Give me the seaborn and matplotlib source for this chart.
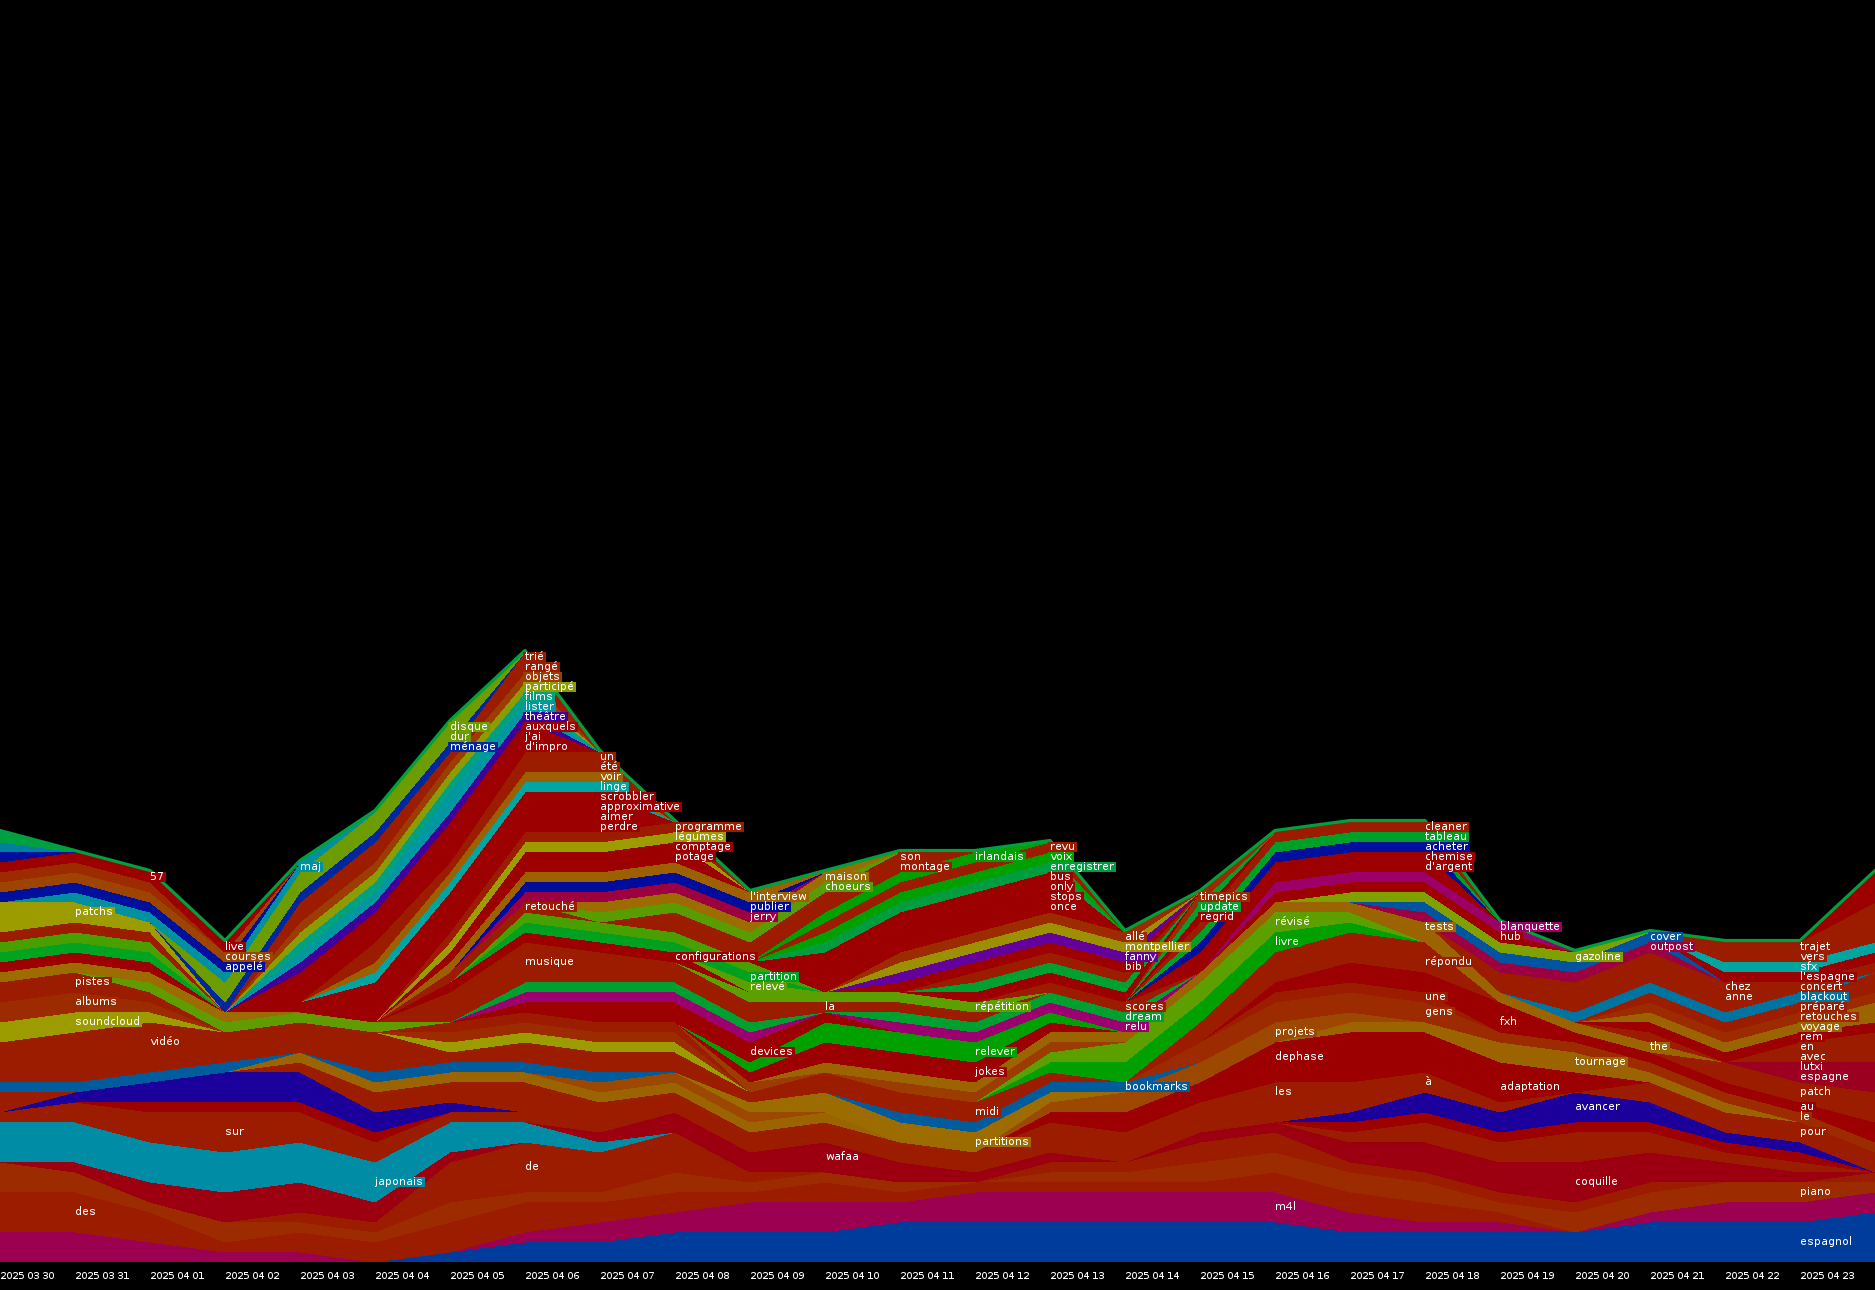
#!/usr/bin/env python3
"""Word counts per day drawn as a stacked area chart on black."""

import matplotlib
matplotlib.use('Agg')
import matplotlib.pyplot as plt
from matplotlib.patches import Rectangle
import pandas as pd
import seaborn as sns

dates = ['2025 03 30', '2025 03 31', '2025 04 01', '2025 04 02', '2025 04 03', '2025 04 04',
         '2025 04 05', '2025 04 06', '2025 04 07', '2025 04 08', '2025 04 09', '2025 04 10',
         '2025 04 11', '2025 04 12', '2025 04 13', '2025 04 14', '2025 04 15', '2025 04 16',
         '2025 04 17', '2025 04 18', '2025 04 19', '2025 04 20', '2025 04 21', '2025 04 22',
         '2025 04 23']

# one list per layer, 26 days (1 count = 10 px)
espagnol = [0,0,0,0,0, 0,1,2,2,3, 3,3,4,4,4, 4,4,4,3,3, 3,3,4,4,4, 5]
m4l = [3,3,2,1,1, 0,0,1,2,2, 3,3,2,3,3, 3,3,3,2,1, 1,0,1,2,2, 2]
des = [4,4,3,1,2, 2,3,3,2,2, 1,2,1,1,1, 1,1,2,2,2, 1,0,0,0,0, 0]
piano = [3,2,1,2,1, 1,2,1,1,2, 1,1,1,0,1, 1,2,2,2,2, 1,2,2,2,2, 1]
de = [0,0,0,0,1, 1,4,5,4,4, 1,0,0,0,1, 1,2,2,1,1, 1,1,1,0,0, 1]
dark1 = [0,1,2,3,3, 2,1,0,0,0, 0,0,0,0,0, 0,0,0,0,0, 0,0,0,0,0, 0]
japonais = [4,4,4,4,4, 4,3,2,1,0, 0,0,0,0,0, 0,0,0,0,0, 0,0,0,0,0, 0]
wafaa = [0,0,0,0,0, 0,0,0,1,2, 2,3,2,1,1, 0,1,1,2,3, 3,4,3,2,1, 0]
sur = [1,2,3,4,3, 2,1,1,0,0, 0,0,0,0,0, 0,0,0,1,2, 2,3,2,1,1, 0]
dark2 = [0,0,1,1,1, 1,0,0,0,0, 0,0,0,0,0, 0,0,0,1,1, 1,1,1,1,1, 0]
avancer = [0,1,2,3,3, 2,1,0,0,0, 0,0,0,0,0, 0,0,0,1,2, 2,3,2,1,1, 0]
les = [2,0,0,0,1, 2,2,3,3,2, 2,2,2,2,3, 3,3,4,3,2, 1,0,2,2,2, 2]
dephase = [0,0,0,0,0, 0,0,0,0,0, 0,0,0,0,1, 2,2,4,5,4, 4,2,0,0,0, 0]
tournage = [0,0,0,0,1, 1,1,1,1,1, 1,1,0,0,0, 0,0,0,1,1, 2,2,1,1,0, 0]
projets = [0,0,0,0,0, 0,0,0,1,1, 1,0,0,0,1, 2,2,2,1,0, 0,0,0,0,0, 0]
partitions = [0,0,0,0,0, 0,0,0,0,0, 1,2,2,2,1, 0,0,0,0,0, 0,0,0,0,0, 0]
bookmarks = [1,1,1,1,0, 1,1,1,1,0, 0,0,1,1,1, 1,0,0,0,0, 0,0,0,0,0, 0]
video = [4,5,5,3,3, 4,1,2,2,2, 1,2,2,2,1, 0,0,0,0,0, 0,0,0,0,0, 0]
soundcloud = [2,2,1,0,0, 0,1,1,1,1, 0,0,0,0,0, 0,0,0,0,0, 0,0,0,0,0, 0]
albums = [2,2,1,0,0, 0,1,1,1,1, 0,0,0,0,0, 0,0,0,0,0, 0,0,0,0,0, 0]
pistes = [2,2,1,0,0, 0,1,1,1,1, 0,0,0,0,0, 0,0,0,0,0, 0,0,0,0,0, 0]
lime0 = [0,0,1,1,1, 1,0,0,0,0, 0,0,0,0,0, 0,0,0,0,0, 0,0,0,0,0, 0]
brown0 = [1,1,1,1,0, 0,0,0,0,0, 0,0,0,0,0, 0,0,0,0,0, 0,0,0,0,0, 0]
dk0 = [1,1,1,0,0, 0,0,0,0,0, 0,0,0,0,0, 0,0,0,0,0, 0,0,0,0,0, 0]
g1 = [1,1,1,0,0, 0,0,0,0,0, 0,0,0,0,0, 0,0,0,0,0, 0,0,0,0,0, 0]
g2 = [1,1,1,0,0, 0,0,0,0,0, 0,0,0,0,0, 0,0,0,0,0, 0,0,0,0,0, 0]
dk1 = [1,1,1,0,0, 0,0,0,0,0, 0,0,0,0,0, 0,0,0,0,0, 0,0,0,0,0, 0]
patchs = [3,2,1,0,0, 0,0,0,0,0, 0,0,0,0,0, 0,0,0,0,0, 0,0,0,0,0, 0]
gens = [0,0,0,0,0, 0,0,0,0,0, 0,0,0,0,0, 0,2,2,2,2, 1,1,1,1,1, 1]
une = [0,0,0,0,0, 0,0,0,0,0, 0,0,0,0,0, 0,0,1,1,1, 0,0,0,0,0, 0]
dk3 = [0,0,0,0,0, 0,0,0,0,0, 0,0,0,0,0, 0,0,1,2,2, 3,1,1,1,1, 2]
repondu = [0,0,0,0,0, 0,0,0,0,0, 0,0,0,0,0, 0,2,3,3,3, 0,0,0,0,0, 0]
patch = [0,0,0,0,0, 0,0,0,0,0, 0,0,0,0,0, 0,0,0,0,0, 0,0,0,2,2, 3]
espagne = [0,0,0,0,0, 0,0,0,0,0, 0,0,0,0,0, 0,0,0,0,0, 0,0,0,0,1, 2]
lutxi = [0,0,0,0,0, 0,0,0,0,0, 0,0,0,0,0, 0,0,0,0,0, 0,0,0,0,1, 1]
avec = [0,0,0,0,0, 0,0,0,0,0, 0,0,0,0,0, 0,0,0,0,0, 0,0,0,0,1, 2]
livre = [0,0,0,0,0, 0,0,0,0,0, 0,0,0,0,1, 2,2,2,1,0, 0,0,0,0,0, 0]
revise = [0,0,0,0,0, 0,0,0,0,0, 0,0,0,0,1, 2,2,2,1,0, 0,0,0,0,0, 0]
t2 = [0,0,0,0,0, 0,0,0,0,0, 1,0,1,1,1, 0,0,0,0,0, 0,0,0,0,0, 0]
the = [0,0,0,0,0, 0,0,0,0,0, 0,0,0,0,0, 0,0,0,0,1, 1,1,1,0,0, 0]
tests = [0,0,0,0,0, 0,0,0,0,0, 0,1,1,1,1, 1,1,1,1,1, 0,0,0,0,0, 0]
en = [0,0,0,0,0, 0,0,0,0,0, 0,0,0,0,0, 0,0,0,0,0, 0,0,1,0,1, 1]
rem = [0,0,0,0,0, 0,0,0,0,0, 0,0,0,0,0, 0,0,0,0,0, 0,0,1,1,1, 1]
voyage = [0,0,0,0,0, 0,0,0,0,0, 0,0,0,0,0, 0,0,0,0,0, 0,0,1,1,1, 2]
retouches = [0,0,0,0,0, 0,0,0,0,0, 0,0,0,0,0, 0,0,0,0,0, 0,0,1,1,1, 1]
prepare = [0,0,0,0,0, 0,0,0,0,0, 0,0,0,0,0, 0,0,0,0,0, 0,0,1,1,1, 2]
blackout = [0,0,0,0,0, 0,0,0,0,0, 0,0,0,0,0, 0,0,0,0,0, 0,1,1,1,1, 0]
concert = [0,0,0,0,0, 0,0,0,0,0, 0,0,0,0,0, 0,0,0,0,0, 0,0,0,1,1, 1]
chez = [0,0,0,0,0, 0,0,0,0,0, 0,0,0,0,0, 0,0,0,0,0, 1,2,2,1,0, 0]
anne = [0,0,0,0,0, 0,0,0,0,0, 0,0,0,0,0, 0,0,0,0,0, 1,1,1,1,0, 0]
outpost = [0,0,0,0,0, 0,0,0,0,0, 0,0,0,0,0, 0,0,0,0,1, 1,1,1,0,0, 0]
cover = [0,0,0,0,0, 0,0,0,0,0, 0,0,0,0,0, 0,0,0,0,1, 1,1,1,0,0, 0]
gazoline = [0,0,0,0,0, 0,0,0,0,0, 0,0,0,0,0, 0,0,0,1,1, 1,1,0,0,0, 0]
jokes = [0,0,0,0,0, 0,0,0,0,0, 1,2,2,2,1, 0,0,0,0,0, 0,0,0,0,0, 0]
relever = [0,0,0,0,0, 0,0,0,0,0, 1,2,2,2,1, 0,0,0,0,0, 0,0,0,0,0, 0]
devices = [0,0,0,0,0, 0,0,1,2,2, 2,1,0,0,0, 0,0,0,0,0, 0,0,0,0,0, 0]
relu = [0,0,0,0,0, 0,0,1,1,1, 1,0,1,1,1, 1,0,0,0,0, 0,0,0,0,0, 0]
dream = [0,0,0,0,0, 0,0,1,1,1, 1,0,1,1,1, 1,0,0,0,0, 0,0,0,0,0, 0]
la = [0,0,0,0,0, 0,3,4,3,2, 2,1,1,1,0, 0,0,0,0,0, 0,0,0,0,0, 0]
repetition = [0,0,0,0,0, 0,0,0,0,0, 1,1,1,1,0, 0,0,0,0,0, 0,0,0,0,0, 0]
configurations = [0,0,0,0,0, 0,1,1,1,1, 0,0,0,0,0, 0,0,0,0,0, 0,0,0,0,0, 0]
releve = [0,0,0,0,0, 0,0,0,0,0, 1,0,0,0,0, 0,0,0,0,0, 0,0,0,0,0, 0]
green2 = [0,0,0,0,0, 0,0,1,1,1, 1,0,0,0,0, 0,0,0,0,0, 0,0,0,0,0, 0]
partition = [0,0,0,0,0, 0,0,1,1,1, 1,0,0,0,0, 0,0,0,0,0, 0,0,0,0,0, 0]
scores = [0,0,0,0,0, 0,0,0,0,0, 0,0,0,0,1, 1,0,0,0,0, 0,0,0,0,0, 0]
hub = [0,0,0,0,0, 0,0,0,0,0, 0,0,0,0,0, 0,0,1,1,1, 1,0,0,0,0, 0]
blanquette = [0,0,0,0,0, 0,0,0,0,0, 0,0,0,0,0, 0,0,1,1,1, 1,0,0,0,0, 0]
chemise = [0,0,0,0,0, 0,0,0,0,0, 0,0,0,0,0, 0,2,2,2,2, 0,0,0,0,0, 0]
acheter = [0,0,0,0,0, 0,0,0,0,0, 0,0,0,0,0, 0,1,1,1,1, 0,0,0,0,0, 0]
tableau = [0,0,0,0,0, 0,0,0,0,0, 0,0,0,0,0, 0,1,1,1,1, 0,0,0,0,0, 0]
cleaner = [0,0,0,0,0, 0,0,0,0,0, 0,0,0,0,0, 0,1,1,1,1, 0,0,0,0,0, 0]
regrid = [0,0,0,0,0, 0,0,0,0,0, 0,0,0,0,0, 0,1,0,0,0, 0,0,0,0,0, 0]
update = [0,0,0,0,0, 0,0,0,0,0, 0,0,0,0,0, 0,1,0,0,0, 0,0,0,0,0, 0]
timepics = [0,0,0,0,0, 0,0,0,0,0, 0,0,0,0,0, 0,1,0,0,0, 0,0,0,0,0, 0]
dk4 = [0,0,0,0,0, 0,0,0,0,0, 0,0,0,1,1, 1,0,0,0,0, 0,0,0,0,0, 0]
gn4 = [0,0,0,0,0, 0,0,0,0,0, 0,0,0,1,1, 1,0,0,0,0, 0,0,0,0,0, 0]
yy4 = [0,0,0,0,0, 0,0,0,0,0, 0,0,0,1,1, 1,0,0,0,0, 0,0,0,0,0, 0]
bib = [0,0,0,0,0, 0,0,0,0,0, 0,0,1,1,1, 1,0,0,0,0, 0,0,0,0,0, 0]
fanny = [0,0,0,0,0, 0,0,0,0,0, 0,0,1,1,1, 1,0,0,0,0, 0,0,0,0,0, 0]
montpellier = [0,0,0,0,0, 0,0,0,0,0, 0,0,1,1,1, 1,0,0,0,0, 0,0,0,0,0, 0]
alle = [0,0,0,0,0, 0,0,0,0,0, 0,0,1,1,1, 1,0,0,0,0, 0,0,0,0,0, 0]
bus = [0,0,0,0,0, 0,0,0,0,0, 0,4,4,4,4, 0,0,0,0,0, 0,0,0,0,0, 0]
enregistrer = [0,0,0,0,0, 0,0,0,0,0, 0,1,1,1,1, 0,0,0,0,0, 0,0,0,0,0, 0]
voix = [0,0,0,0,0, 0,0,0,0,0, 0,1,1,1,1, 0,0,0,0,0, 0,0,0,0,0, 0]
revu = [0,0,0,0,0, 0,0,0,0,0, 0,1,1,1,1, 0,0,0,0,0, 0,0,0,0,0, 0]
irlandais = [0,0,0,0,0, 0,0,0,0,0, 0,1,1,1,0, 0,0,0,0,0, 0,0,0,0,0, 0]
montage = [0,0,0,0,0, 0,0,0,0,0, 0,1,1,0,0, 0,0,0,0,0, 0,0,0,0,0, 0]
son = [0,0,0,0,0, 0,0,0,0,0, 0,1,1,0,0, 0,0,0,0,0, 0,0,0,0,0, 0]
retouche = [0,0,0,0,0, 0,1,1,0,2, 2,0,0,0,0, 0,0,0,0,0, 0,0,0,0,0, 0]
choeurs = [0,0,0,0,0, 0,0,0,1,1, 1,1,0,0,0, 0,0,0,0,0, 0,0,0,0,0, 0]
maison = [0,0,0,0,0, 0,0,0,1,1, 1,1,0,0,0, 0,0,0,0,0, 0,0,0,0,0, 0]
jerry = [0,0,0,0,0, 0,0,1,1,1, 1,0,0,0,0, 0,0,0,0,0, 0,0,0,0,0, 0]
publier = [0,0,0,0,0, 0,0,1,1,1, 1,0,0,0,0, 0,0,0,0,0, 0,0,0,0,0, 0]
interview = [0,0,0,0,0, 0,1,1,1,1, 1,0,0,0,0, 0,0,0,0,0, 0,0,0,0,0, 0]
potage = [0,0,0,0,0, 0,1,2,2,2, 0,0,0,0,0, 0,0,0,0,0, 0,0,0,0,0, 0]
legumes = [0,0,0,0,0, 0,1,1,1,1, 0,0,0,0,0, 0,0,0,0,0, 0,0,0,0,0, 0]
programme = [0,0,0,0,0, 0,1,1,1,1, 0,0,0,0,0, 0,0,0,0,0, 0,0,0,0,0, 0]
perdre = [0,0,0,0,1, 4,4,4,4,0, 0,0,0,0,0, 0,0,0,0,0, 0,0,0,0,0, 0]
linge = [0,0,0,0,0, 1,1,1,1,0, 0,0,0,0,0, 0,0,0,0,0, 0,0,0,0,0, 0]
voir = [0,0,0,0,0, 1,1,1,1,0, 0,0,0,0,0, 0,0,0,0,0, 0,0,0,0,0, 0]
ete = [0,0,0,0,0, 1,1,1,1,0, 0,0,0,0,0, 0,0,0,0,0, 0,0,0,0,0, 0]
un = [0,0,0,0,0, 1,0,1,1,0, 0,0,0,0,0, 0,0,0,0,0, 0,0,0,0,0, 0]
dimpro = [0,0,0,0,1, 1,1,1,0,0, 0,0,0,0,0, 0,0,0,0,0, 0,0,0,0,0, 0]
jai = [0,0,0,0,1, 1,1,1,0,0, 0,0,0,0,0, 0,0,0,0,0, 0,0,0,0,0, 0]
auxquels = [0,0,0,0,1, 1,2,1,0,0, 0,0,0,0,0, 0,0,0,0,0, 0,0,0,0,0, 0]
theatre = [0,0,0,0,1, 1,1,1,0,0, 0,0,0,0,0, 0,0,0,0,0, 0,0,0,0,0, 0]
lister = [0,0,0,0,1, 1,2,1,0,0, 0,0,0,0,0, 0,0,0,0,0, 0,0,0,0,0, 0]
films = [0,0,0,0,1, 1,1,1,0,0, 0,0,0,0,0, 0,0,0,0,0, 0,0,0,0,0, 0]
participe = [0,0,0,0,1, 1,1,1,0,0, 0,0,0,0,0, 0,0,0,0,0, 0,0,0,0,0, 0]
objets = [0,0,0,0,1, 1,1,1,0,0, 0,0,0,0,0, 0,0,0,0,0, 0,0,0,0,0, 0]
range_ = [0,0,0,0,2, 2,1,1,0,0, 0,0,0,0,0, 0,0,0,0,0, 0,0,0,0,0, 0]
trie = [0,0,0,0,0, 0,0,1,0,0, 0,0,0,0,0, 0,0,0,0,0, 0,0,0,0,0, 0]
menage = [0,0,0,1,1, 1,1,0,0,0, 0,0,0,0,0, 0,0,0,0,0, 0,0,0,0,0, 0]
dur = [0,0,0,1,1, 1,1,0,0,0, 0,0,0,0,0, 0,0,0,0,0, 0,0,0,0,0, 0]
disque = [0,0,0,1,1, 1,1,0,0,0, 0,0,0,0,0, 0,0,0,0,0, 0,0,0,0,0, 0]
maj = [0,1,1,1,1, 0,0,0,0,0, 0,0,0,0,0, 0,0,0,0,0, 0,0,0,0,0, 0]
appele = [1,1,1,1,0, 0,0,0,0,0, 0,0,0,0,0, 0,0,0,0,0, 0,0,0,0,0, 0]
courses = [1,1,1,1,0, 0,0,0,0,0, 0,0,0,0,0, 0,0,0,0,0, 0,0,0,0,0, 0]
orange0 = [1,1,1,0,0, 0,0,0,0,0, 0,0,0,0,0, 0,0,0,0,0, 0,0,0,0,0, 0]
live = [1,1,1,1,0, 0,0,0,0,0, 0,0,0,0,0, 0,0,0,0,0, 0,0,0,0,0, 0]
blue0 = [1,0,0,0,0, 0,0,0,0,0, 0,0,0,0,0, 0,0,0,0,0, 0,0,0,0,0, 0]
cyan0 = [1,0,0,0,0, 0,0,0,0,0, 0,0,0,0,0, 0,0,0,0,0, 0,0,0,0,0, 0]
green0 = [1,0,0,0,0, 0,0,0,0,0, 0,0,0,0,0, 0,0,0,0,0, 0,0,0,0,0, 0]
lespagne = [0,0,0,0,0, 0,0,0,0,0, 0,0,0,0,0, 0,0,0,0,0, 0,0,0,1,1, 1]
sfx = [0,0,0,0,0, 0,0,0,0,0, 0,0,0,0,0, 0,0,0,0,0, 0,0,0,1,1, 1]
vers = [0,0,0,0,0, 0,0,0,0,0, 0,0,0,0,0, 0,0,0,0,0, 0,0,0,1,1, 2]
trajet = [0,0,0,0,0, 0,0,0,0,0, 0,0,0,0,0, 0,0,0,0,0, 0,0,0,1,1, 2]
last = [0,0,0,0,0, 0,0,0,0,0, 0,0,0,0,0, 0,0,0,0,0, 0,0,0,0,0, 3]

RED = '#9c0000'
R1 = '#9c1c00'
R2 = '#9c2c00'
R3 = '#9c3c00'
BR = '#9c6400'

# name, values, colour, bottom to top
layers = [
    ('espagnol', espagnol, '#003c9c'), ('m4l', m4l, '#9c0050'), ('des', des, R1),
    ('piano', piano, R2), ('de', de, R1), ('dark1', dark1, '#9c0010'),
    ('japonais', japonais, '#008ca4'), ('wafaa', wafaa, '#9c0010'), ('sur', sur, R1),
    ('dark2', dark2, RED), ('avancer', avancer, '#1c009c'), ('les', les, R1),
    ('dephase', dephase, RED), ('tournage', tournage, BR), ('projets', projets, '#9c4800'),
    ('partitions', partitions, '#9c6c00'), ('bookmarks', bookmarks, '#005c9c'),
    ('video', video, R1), ('soundcloud', soundcloud, '#9c9c00'), ('albums', albums, R2),
    ('pistes', pistes, R1), ('lime0', lime0, '#609c00'), ('brown0', brown0, '#9c6c00'),
    ('dk0', dk0, RED), ('g1', g1, '#00a420'), ('g2', g2, '#48a000'), ('dk1', dk1, R1),
    ('patchs', patchs, '#9c9c00'), ('gens', gens, R2), ('une', une, R1), ('dk3', dk3, RED),
    ('repondu', repondu, R1), ('patch', patch, R1), ('espagne', espagne, '#9c0020'),
    ('lutxi', lutxi, '#9c0020'), ('avec', avec, R1), ('livre', livre, '#00a000'),
    ('revise', revise, '#5ca000'), ('t2', t2, R3), ('the', the, BR), ('tests', tests, '#9c6400'),
    ('en', en, R1), ('rem', rem, RED), ('voyage', voyage, BR), ('retouches', retouches, R2),
    ('prepare', prepare, R1), ('blackout', blackout, '#0074a0'), ('concert', concert, R1),
    ('anne', anne, R1), ('chez', chez, R1), ('outpost', outpost, '#9c0040'),
    ('cover', cover, '#0054a0'), ('gazoline', gazoline, '#80a000'), ('jokes', jokes, RED),
    ('relever', relever, '#00a000'), ('devices', devices, RED), ('relu', relu, '#9c0070'),
    ('dream', dream, '#00a030'), ('la', la, R1), ('repetition', repetition, '#5ca000'),
    ('configurations', configurations, RED), ('releve', releve, '#5ca000'),
    ('green2', green2, '#00a020'), ('partition', partition, '#48a000'), ('scores', scores, R1),
    ('hub', hub, RED), ('blanquette', blanquette, '#9c0068'),
    ('chemise', chemise, RED), ('acheter', acheter, '#00109c'), ('tableau', tableau, '#00a028'),
    ('cleaner', cleaner, R1), ('regrid', regrid, RED), ('update', update, '#00a030'),
    ('timepics', timepics, R2),
    ('dk4', dk4, RED), ('gn4', gn4, '#00a030'), ('yy4', yy4, R1), ('bib', bib, RED),
    ('fanny', fanny, '#64009c'), ('montpellier', montpellier, '#9c9000'), ('alle', alle, R2),
    ('bus', bus, RED), ('enregistrer', enregistrer, '#009c40'), ('voix', voix, '#00a000'),
    ('revu', revu, R1), ('irlandais', irlandais, '#00a000'), ('montage', montage, R1),
    ('son', son, R1), ('retouche', retouche, R1), ('choeurs', choeurs, '#589c00'),
    ('maison', maison, '#9c6c00'), ('jerry', jerry, '#9c0040'), ('publier', publier, '#000c9c'),
    ('interview', interview, '#9c6000'), ('potage', potage, RED), ('legumes', legumes, '#9c9c00'),
    ('programme', programme, R1), ('perdre', perdre, RED), ('linge', linge, '#00a4a0'),
    ('voir', voir, '#9c6000'), ('ete', ete, R1), ('un', un, R1), ('dimpro', dimpro, RED),
    ('jai', jai, RED), ('auxquels', auxquels, RED), ('theatre', theatre, '#40009c'),
    ('lister', lister, '#0098a0'), ('films', films, '#00a080'), ('participe', participe, '#8c9c00'),
    ('objets', objets, R3), ('rangé', range_, R1), ('trie', trie, R1), ('menage', menage, '#00289c'),
    ('dur', dur, '#6c9c00'), ('disque', disque, '#6c9c00'), ('maj', maj, '#0090a0'),
    ('appele', appele, '#00109c'), ('courses', courses, '#9c4400'), ('orange0', orange0, R2),
    ('live', live, RED), ('blue0', blue0, '#00109c'), ('cyan0', cyan0, '#0080a0'),
    ('green0', green0, '#00a040'), ('lespagne', lespagne, RED), ('sfx', sfx, '#00a4a0'),
    ('vers', vers, R1), ('trajet', trajet, R1), ('last', last, RED),
]

# word, day, layer, shift in rows from the middle of that layer
labels = [
    ('des', 1, 'des', 0), ('patchs', 1, 'patchs', 0), ('pistes', 1, 'pistes', 0),
    ('albums', 1, 'albums', 0), ('soundcloud', 1, 'soundcloud', 0),
    ('57', 2, 'live', 0), ('vidéo', 2, 'video', 0.5),
    ('live', 3, 'live', 0), ('courses', 3, 'courses', 0), ('appelé', 3, 'appele', 0),
    ('sur', 3, 'sur', 0), ('maj', 4, 'maj', 0), ('japonais', 5, 'japonais', 0),
    ('disque', 6, 'disque', 0), ('dur', 6, 'dur', 0), ('ménage', 6, 'menage', 0),
    ('trié', 7, 'trie', 0), ('rangé', 7, 'rangé', 0), ('objets', 7, 'objets', 0),
    ('participé', 7, 'participe', 0), ('films', 7, 'films', 0), ('lister', 7, 'lister', 0),
    ('théâtre', 7, 'theatre', 0), ('auxquels', 7, 'auxquels', 0), ("j'ai", 7, 'jai', 0),
    ("d'impro", 7, 'dimpro', 0), ('retouché', 7, 'retouche', 0), ('musique', 7, 'la', 0),
    ('de', 7, 'de', 0),
    ('un', 8, 'un', 0), ('été', 8, 'ete', 0), ('voir', 8, 'voir', 0), ('linge', 8, 'linge', 0),
    ('scrobbler', 8, 'perdre', 1.5), ('approximative', 8, 'perdre', 0.5),
    ('aimer', 8, 'perdre', -0.5), ('perdre', 8, 'perdre', -1.5),
    ('programme', 9, 'programme', 0), ('légumes', 9, 'legumes', 0), ('comptage', 9, 'potage', 0.5),
    ('potage', 9, 'potage', -0.5), ('configurations', 9, 'configurations', 0),
    ("l'interview", 10, 'interview', 0), ('publier', 10, 'publier', 0), ('jerry', 10, 'jerry', 0),
    ('partition', 10, 'green2', 0), ('relevé', 10, 'releve', 0), ('devices', 10, 'devices', 0),
    ('maison', 11, 'maison', 0), ('choeurs', 11, 'choeurs', 0), ('la', 11, 'la', 0),
    ('wafaa', 11, 'wafaa', 0),
    ('son', 12, 'son', 0), ('montage', 12, 'montage', 0),
    ('irlandais', 13, 'irlandais', 0), ('répétition', 13, 'repetition', 0),
    ('relever', 13, 'relever', 0), ('jokes', 13, 'jokes', 0), ('midi', 13, 'video', 0),
    ('partitions', 13, 'partitions', 0),
    ('revu', 14, 'revu', 0), ('voix', 14, 'voix', 0), ('enregistrer', 14, 'enregistrer', 0),
    ('bus', 14, 'bus', 1.5), ('only', 14, 'bus', 0.5), ('stops', 14, 'bus', -0.5),
    ('once', 14, 'bus', -1.5),
    ('allé', 15, 'alle', 0), ('montpellier', 15, 'montpellier', 0), ('fanny', 15, 'fanny', 0),
    ('bib', 15, 'bib', 0), ('scores', 15, 'scores', 0), ('dream', 15, 'dream', 0),
    ('relu', 15, 'relu', 0), ('bookmarks', 15, 'bookmarks', 0),
    ('timepics', 16, 'timepics', 0), ('update', 16, 'update', 0), ('regrid', 16, 'regrid', 0),
    ('révisé', 17, 'revise', 0), ('livre', 17, 'livre', 0), ('projets', 17, 'projets', 0),
    ('dephase', 17, 'dephase', 0.5), ('les', 17, 'les', 1), ('m4l', 17, 'm4l', 0),
    ('cleaner', 19, 'cleaner', 0), ('tableau', 19, 'tableau', 0), ('acheter', 19, 'acheter', 0),
    ('chemise', 19, 'chemise', 0.5), ("d'argent", 19, 'chemise', -0.5), ('tests', 19, 'tests', 0),
    ('répondu', 19, 'repondu', -0.5), ('une', 19, 'une', 0), ('gens', 19, 'gens', 0), ('à', 19, 'les', 0),
    ('blanquette', 20, 'blanquette', 0), ('hub', 20, 'hub', 0), ('fxh', 20, 'dk3', -0.5),
    ('adaptation', 20, 'dephase', -0.5),
    ('gazoline', 21, 'gazoline', 0), ('tournage', 21, 'tournage', 0), ('avancer', 21, 'avancer', 0),
    ('coquille', 21, 'wafaa', 0),
    ('cover', 22, 'cover', 0), ('outpost', 22, 'outpost', 0), ('the', 22, 'the', 0),
    ('chez', 23, 'chez', 0), ('anne', 23, 'anne', 0),
    ('trajet', 24, 'trajet', 0), ('vers', 24, 'vers', 0), ('sfx', 24, 'sfx', 0),
    ("l'espagne", 24, 'lespagne', 0), ('concert', 24, 'concert', 0), ('blackout', 24, 'blackout', 0),
    ('préparé', 24, 'prepare', 0), ('retouches', 24, 'retouches', 0), ('voyage', 24, 'voyage', 0),
    ('rem', 24, 'rem', 0), ('en', 24, 'en', 0), ('avec', 24, 'avec', 0), ('lutxi', 24, 'lutxi', 0),
    ('espagne', 24, 'espagne', 0), ('patch', 24, 'patch', 0), ('au', 24, 'dk3', 0), ('le', 24, 'gens', 0),
    ('pour', 24, 'les', 0), ('piano', 24, 'piano', 0), ('espagnol', 24, 'espagnol', 0),
]


def main():
    sns.set_theme(style='dark', rc={
        'figure.facecolor': 'black', 'axes.facecolor': 'black', 'savefig.facecolor': 'black',
        'text.antialiased': True, 'font.family': ['DejaVu Sans'], 'text.hinting': 'native',
        'text.hinting_factor': 1,
    })

    df = pd.DataFrame({name: values for name, values, _ in layers})
    colors = dict((name, color) for name, _, color in layers)
    days = list(df.index)
    tops = df.cumsum(axis=1)
    bottoms = tops - df

    fig = plt.figure(figsize=(18.75, 12.9), dpi=100)
    ax = fig.add_axes([0, 28 / 1290, 1, 1262 / 1290])

    ax.stackplot(days, df.T.values, colors=[colors[c] for c in df.columns],
                 linewidth=0, antialiased=False)
    # thin green rim on top of the whole stack
    sns.lineplot(x=days, y=tops.iloc[:, -1] + 0.15, color='#00a040', linewidth=2.3,
                 errorbar=None, ax=ax, zorder=2)

    ax.set_xlim(0, 25)
    ax.set_ylim(0, 126.2)
    ax.set_xticks(days[:-1], dates, ha='left', fontsize=7.1, color='white')
    ax.set_yticks([])
    ax.set(xlabel='', ylabel='')
    ax.tick_params(axis='x', length=0, pad=6.5)
    ax.grid(False)
    sns.despine(ax=ax, left=True, bottom=True)

    renderer = fig.canvas.get_renderer()
    for word, day, layer, shift in labels:
        mid = (bottoms[layer][day] + tops[layer][day]) / 2 + shift
        txt = ax.text(day, mid - 0.33, word, color='white', fontsize=7.6,
                      va='baseline', ha='left', zorder=5)
        width = txt.get_window_extent(renderer).width / 75
        ax.add_patch(Rectangle((day - 2 / 75, mid - 0.5), width + 4 / 75, 1,
                               facecolor=colors[layer], edgecolor='none',
                               antialiased=False, zorder=4))

    fig.savefig('out.png', dpi=100)
    plt.close(fig)


if __name__ == '__main__':
    main()
